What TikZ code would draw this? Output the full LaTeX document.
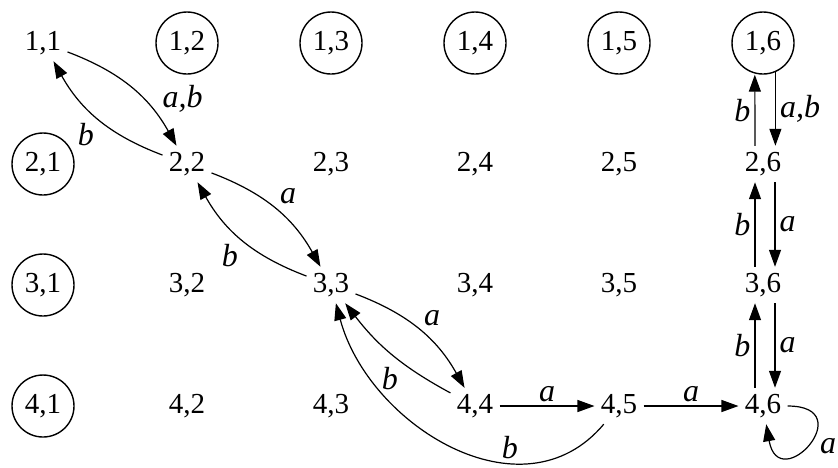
\documentclass[tikz,border=0pt]{standalone}
\usepackage{fontspec}
\setmainfont{Liberation Serif}
\usetikzlibrary{positioning, arrows.meta}

\begin{document}
\begin{tikzpicture}[
    >={Triangle[length=8.5pt,width=6pt]},
    node distance=60.5pt and 72pt,
    on grid,
    every node/.style={font=\fontsize{14.5}{16}\selectfont},
    st/.style={inner sep=3pt},
    acc/.style={st, draw, circle, minimum size=31pt, line width=0.7pt},
    flow/.style={->, line width=0.6pt},
    lbl/.style={font=\fontsize{16}{18}\selectfont\itshape, inner sep=2pt},
]
    \useasboundingbox (0,0) rectangle (419pt,-233.5pt);

    % Row 1
    \node[st] (s11) at (21.5pt,-21.5pt) {1,1};
    \node[acc, right=of s11] (s12) {1,2};
    \node[acc, right=of s12] (s13) {1,3};
    \node[acc, right=of s13] (s14) {1,4};
    \node[acc, right=of s14] (s15) {1,5};
    \node[acc, right=of s15] (s16) {1,6};

    % Row 2
    \node[acc, below=of s11] (s21) {2,1};
    \node[st, right=of s21] (s22) {2,2};
    \node[st, right=of s22] (s23) {2,3};
    \node[st, right=of s23] (s24) {2,4};
    \node[st, right=of s24] (s25) {2,5};
    \node[st, right=of s25] (s26) {2,6};

    % Row 3
    \node[acc, below=of s21] (s31) {3,1};
    \node[st, right=of s31] (s32) {3,2};
    \node[st, right=of s32] (s33) {3,3};
    \node[st, right=of s33] (s34) {3,4};
    \node[st, right=of s34] (s35) {3,5};
    \node[st, right=of s35] (s36) {3,6};

    % Row 4
    \node[acc, below=of s31] (s41) {4,1};
    \node[st, right=of s41] (s42) {4,2};
    \node[st, right=of s42] (s43) {4,3};
    \node[st, right=of s43] (s44) {4,4};
    \node[st, right=of s44] (s45) {4,5};
    \node[st, right=of s45] (s46) {4,6};

    % --- Diagonal ---
    \draw[flow] (s11) to[bend left=20] node[lbl, auto, pos=0.78] {a,b} (s22);
    \draw[flow] (s22) to[bend left=20] node[lbl, auto] {b} (s11);
    \draw[flow] (s22) to[bend left=20] node[lbl, auto] {a} (s33);
    \draw[flow] (s33) to[bend left=20] node[lbl, auto] {b} (s22);
    \draw[flow] (s33) to[bend left=20] node[lbl, auto] {a} (s44);
    \draw[flow] (s44) to[bend left=12] node[lbl, auto, pos=0.4] {b} (s33);

    % --- Bottom row ---
    \draw[flow] (s44) -- node[lbl, above] {a} (s45);
    \draw[flow] (s45) to[out=230, in=-75, looseness=1.1] node[lbl, pos=0.32, above] {b} (s33);
    \draw[flow] (s45) -- node[lbl, above] {a} (s46);
    \draw[flow] (s46) to[out=0, in=-80, min distance=13mm] node[lbl, right, xshift=3pt, yshift=-2pt] {a} (s46);

    % --- Last column ---
    \draw[flow] ([xshift=-4pt]s26.north) -- node[lbl, left] {b} (s16.-105 |- s16.south);
    \draw[flow] (s16.-67) -- node[lbl, right] {a,b} (s16.-67 |- s26.north);
    \draw[flow] ([xshift=-4pt]s36.north) -- node[lbl, left] {b} ([xshift=-4pt]s26.south);
    \draw[flow] ([xshift=6pt]s26.south) -- node[lbl, right] {a} ([xshift=6pt]s36.north);
    \draw[flow] ([xshift=-4pt]s46.north) -- node[lbl, left] {b} ([xshift=-4pt]s36.south);
    \draw[flow] ([xshift=6pt]s36.south) -- node[lbl, right] {a} ([xshift=6pt]s46.north);

\end{tikzpicture}
\end{document}
